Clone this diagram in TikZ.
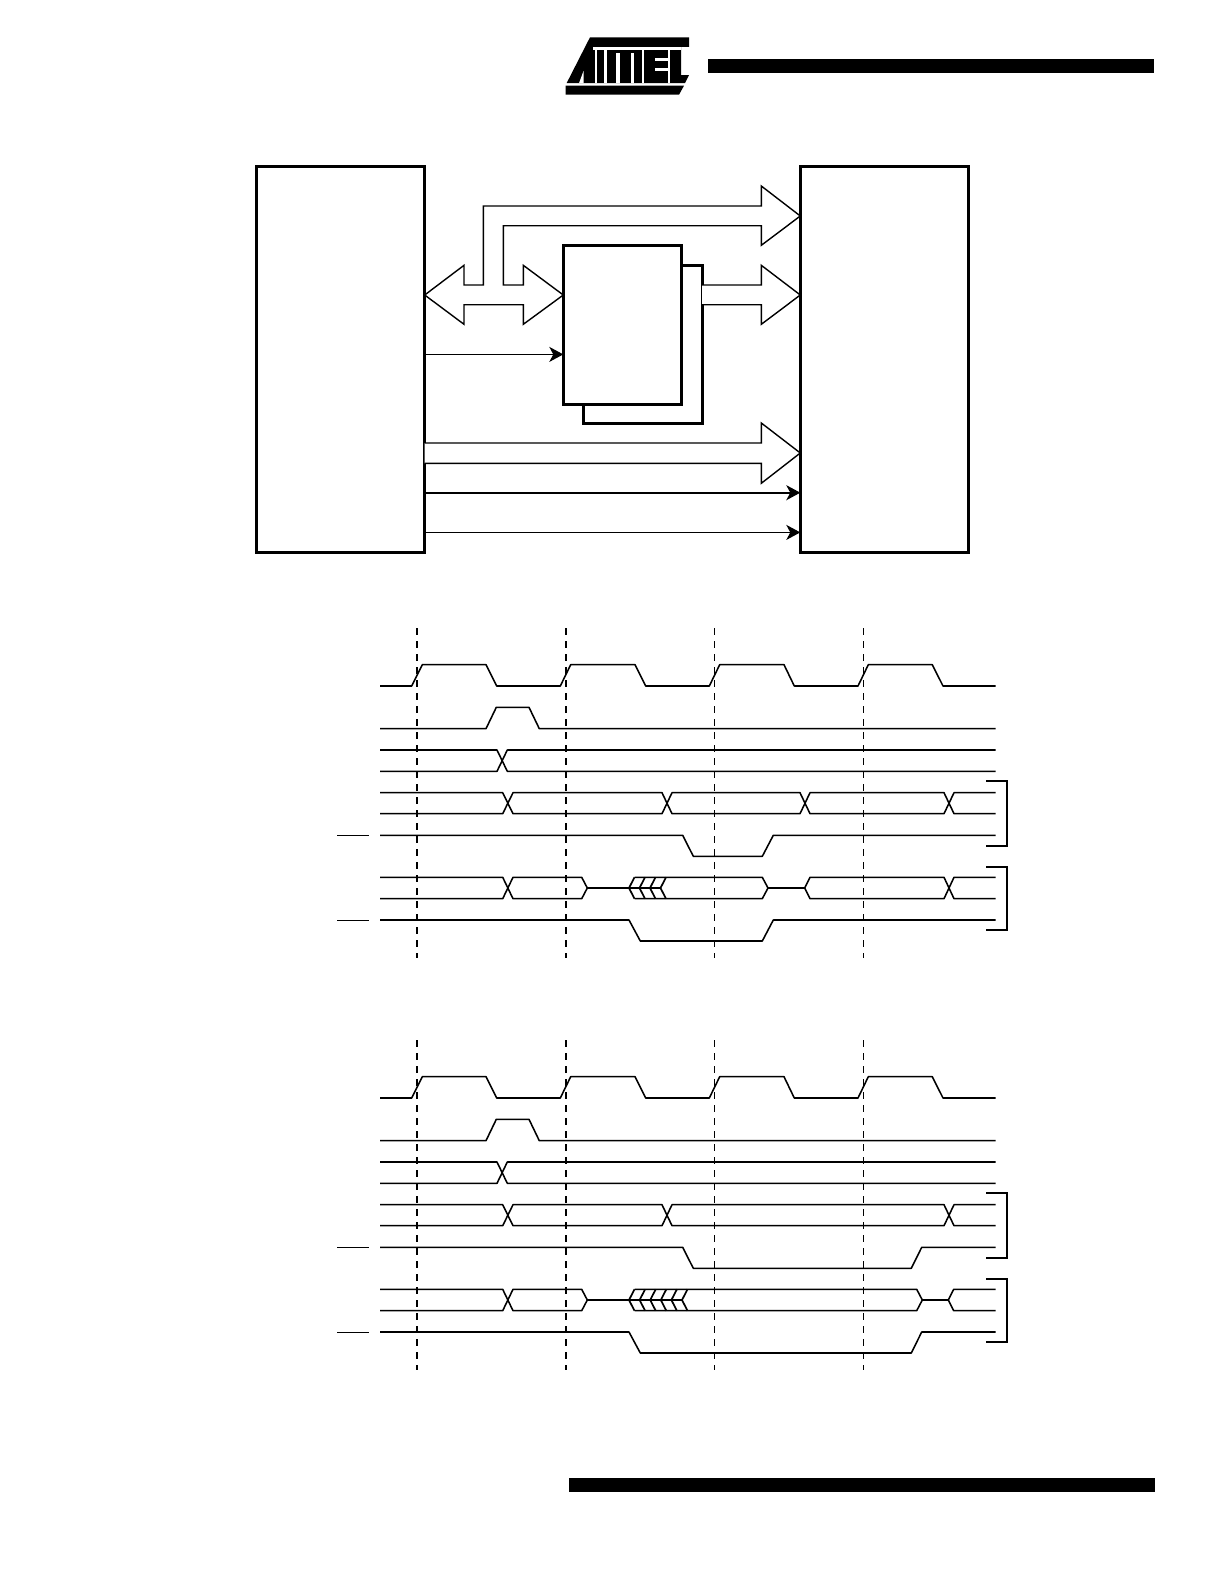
\documentclass[tikz,border=0pt]{standalone}
\usetikzlibrary{arrows.meta}
\tikzset{
  blockbox/.style={draw=black,fill=white,line width=3pt,inner sep=0pt,outer sep=0pt,anchor=north west},
  bus/.style={draw=black,fill=white,line width=1.4pt,line join=miter},
  wire/.style={draw=black,line width=1.1pt,-{Stealth[length=14pt,width=15pt,inset=4pt]}},
  boldwire/.style={wire,line width=1.8pt},
  sig/.style={draw=black,line width=1.55pt,line join=round},
  chev/.style={draw=black,line width=1.7pt,line join=miter},
  brack/.style={draw=black,line width=1.8pt},
  grid a/.style={draw=black,line width=1.7pt,dash pattern=on 7pt off 6pt},
  grid b/.style={draw=black,line width=1pt,dash pattern=on 7pt off 6pt},
  solidbar/.style={fill=black,draw=none},
  cut/.style={fill=white,draw=none}
}
\newcommand{\timingcommon}{%
  \draw[grid a] (416.7,628) -- (416.7,958);
  \draw[grid a] (565.7,628) -- (565.7,958);
  \draw[grid b] (714.3,628) -- (714.3,958);
  \draw[grid b] (863.3,628) -- (863.3,958);
  \draw[sig] (380,686) -- (411.7,686) -- (422.3,664.7) -- (486,664.7) -- (496.7,686) -- (560.3,686) -- (570.7,664.7) -- (635,664.7) -- (645.7,686) -- (709.3,686) -- (719.7,664.7) -- (784,664.7) -- (794.3,686) -- (858,686) -- (868.3,664.7) -- (932.3,664.7) -- (943,686) -- (995.7,686);
  \draw[sig] (380,728.7) -- (486,728.7) -- (496.3,707.3) -- (529,707.3) -- (539.3,728.7) -- (995.7,728.7);
  \draw[sig] (380,750) -- (497,750) -- (507.3,771.3) -- (995.7,771.3);
  \draw[sig] (380,771.3) -- (497,771.3) -- (507.3,750) -- (995.7,750);
  \draw[draw=black,line width=1.2pt] (337.3,835.4) -- (368.7,835.4);
  \draw[draw=black,line width=1.2pt] (337.3,920.4) -- (368.7,920.4);
  \draw[sig] (380,877.3) -- (502.7,877.3) -- (513,898.7) -- (581.7,898.7) -- (587.3,888) -- (629,888);
  \draw[sig] (380,898.7) -- (502.7,898.7) -- (513,877.3) -- (581.7,877.3) -- (587.3,888);
  \draw[brack] (986,781.3) -- (1007.3,781.3) -- (1007.3,846) -- (986,846);
  \draw[brack] (986,866.7) -- (1007.3,866.7) -- (1007.3,930) -- (986,930);
}
\begin{document}
\begin{tikzpicture}[x=1pt,y=-1pt]
\useasboundingbox (0,0) rectangle (1224,1582);
% header and footer bars
\fill[solidbar] (708,58.5) rectangle (1154,72.7);
\fill[solidbar] (569,1478) rectangle (1154.5,1492);
% logo
\fill[solidbar] (590,37.3) -- (689,37.3) -- (689,46.8) -- (681,46.8) -- (681,75) -- (689,75) -- (685,83) -- (566.7,83) -- cycle;
\fill[solidbar] (565.5,85.7) -- (684,85.7) -- (679,94.7) -- (565.5,94.7) -- cycle;
\fill[cut] (593,47) rectangle (681.2,50);
\fill[cut] (595,50) rectangle (597,83.2);
\fill[cut] (604,50) rectangle (607,83.2);
\fill[cut] (615.5,53) rectangle (619.5,83.2);
\fill[cut] (630.5,53) rectangle (633.5,83.2);
\fill[cut] (642,50) rectangle (644,83.2);
\fill[cut] (655,58) rectangle (668,61);
\fill[cut] (655,68) rectangle (668,71);
\fill[cut] (668,50) rectangle (670,83.2);
\fill[cut] (579,83.2) -- (583.5,83.2) -- (583.5,71) -- cycle;
% block diagram
\node[blockbox,minimum width=168.7pt,minimum height=386pt] (cpu) at (256,166) {};
\node[blockbox,minimum width=168.5pt,minimum height=386pt] (mem) at (800.3,166) {};
\node[blockbox,minimum width=119pt,minimum height=158pt] (chipb) at (583,265.3) {};
\node[blockbox,minimum width=118.5pt,minimum height=158.3pt] (chipf) at (563.3,245.7) {};
\draw[bus] (cpu.east |- 0,295) -- (464,265.3) -- (464,285) -- (483.3,285) -- (483.3,206) -- (761.3,206) -- (761.3,186) -- (mem.west |- 0,216) -- (761.3,245.3) -- (761.3,225.7) -- (503.3,225.7) -- (503.3,285) -- (523.3,285) -- (523.3,265.3) -- (chipf.west |- 0,295) -- (523.3,324.3) -- (523.3,304.7) -- (464,304.7) -- (464,324.3) -- cycle;
\draw[bus] (chipb.east |- 0,285) -- (761.3,285) -- (761.3,265.3) -- (mem.west |- 0,295) -- (761.3,324.3) -- (761.3,304.7) -- (chipb.east |- 0,304.7);
\draw[bus] (cpu.east |- 0,443) -- (761.3,443) -- (761.3,423) -- (mem.west |- 0,453) -- (761.3,483.3) -- (761.3,463.3) -- (cpu.east |- 0,463.3);
\coordinate (w1) at (cpu.east |- 0,354.4);
\coordinate (w2) at (cpu.east |- 0,492.7);
\coordinate (w3) at (cpu.east |- 0,532.4);
\draw[wire] (w1) -- (chipf.west |- w1);
\draw[boldwire] (w2) -- (mem.west |- w2);
\draw[wire] (w3) -- (mem.west |- w3);
% first timing panel
\begin{scope}
\timingcommon
\draw[sig] (380,792.7) -- (502.7,792.7) -- (513,813.7) -- (662,813.7) -- (672,792.7) -- (800,792.7) -- (810,813.7) -- (944,813.7) -- (954,792.7) -- (995.7,792.7);
\draw[sig] (380,813.7) -- (502.7,813.7) -- (513,792.7) -- (662,792.7) -- (672,813.7) -- (800,813.7) -- (810,792.7) -- (944,792.7) -- (954,813.7) -- (995.7,813.7);
\draw[sig] (380,835.3) -- (682.7,835.3) -- (693.3,856.3) -- (762.3,856.3) -- (773.3,835.3) -- (995.7,835.3);
\draw[sig] (380,920) -- (629,920) -- (640.3,941) -- (762.3,941) -- (773.3,920) -- (995.7,920);
\draw[chev] (629,888) -- (660.5,888);
\foreach \a in {629,639.5,650,660.5}
  \draw[chev] (\a+5.5,877.3) -- (\a,888) -- (\a+5.5,898.7);
\draw[sig] (634.5,877.3) -- (762.3,877.3) -- (768,888) -- (804.7,888) -- (810,877.3) -- (944,877.3) -- (954,898.7) -- (995.7,898.7);
\draw[sig] (634.5,898.7) -- (762.3,898.7) -- (768,888);
\draw[sig] (804.7,888) -- (810,898.7) -- (944,898.7) -- (954,877.3) -- (995.7,877.3);
\end{scope}
% second timing panel
\begin{scope}[yshift=-412pt]
\timingcommon
\draw[sig] (380,792.7) -- (502.7,792.7) -- (513,813.7) -- (662,813.7) -- (672,792.7) -- (944,792.7) -- (954,813.7) -- (995.7,813.7);
\draw[sig] (380,813.7) -- (502.7,813.7) -- (513,792.7) -- (662,792.7) -- (672,813.7) -- (944,813.7) -- (954,792.7) -- (995.7,792.7);
\draw[sig] (380,835.3) -- (682.7,835.3) -- (693.3,856.3) -- (911.3,856.3) -- (921.7,835.3) -- (995.7,835.3);
\draw[sig] (380,920) -- (629,920) -- (640.3,941) -- (911.3,941) -- (921.7,920) -- (995.7,920);
\draw[chev] (629,888) -- (682,888);
\foreach \a in {629,639.6,650.2,660.8,671.4,682}
  \draw[chev] (\a+5.5,877.3) -- (\a,888) -- (\a+5.5,898.7);
\draw[sig] (634.5,877.3) -- (916.7,877.3) -- (922.3,888) -- (948.3,888) -- (953.7,877.3) -- (995.7,877.3);
\draw[sig] (634.5,898.7) -- (916.7,898.7) -- (922.3,888);
\draw[sig] (948.3,888) -- (953.7,898.7) -- (995.7,898.7);
\end{scope}
\end{tikzpicture}
\end{document}
